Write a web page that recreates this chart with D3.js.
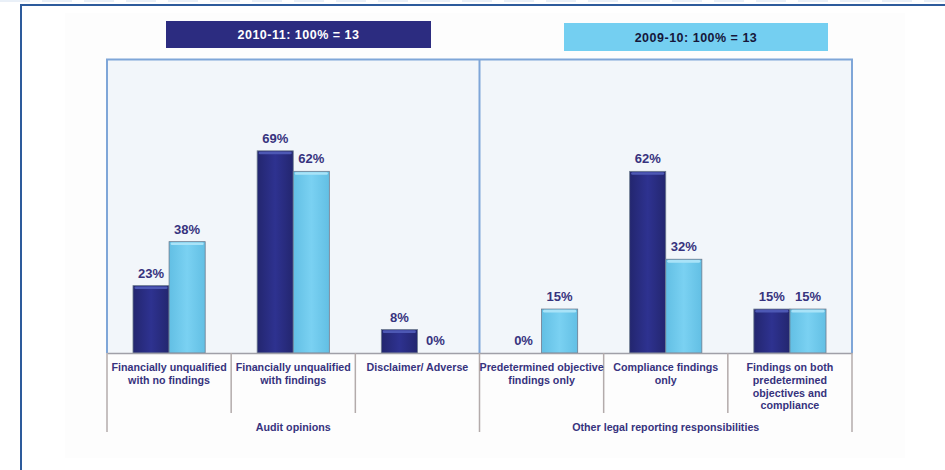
<!DOCTYPE html>
<html>
<head>
<meta charset="utf-8">
<script src="https://cdn.jsdelivr.net/npm/d3@7"></script>
<style>
  html, body { margin: 0; padding: 0; background: #ffffff; }
  svg { display: block; font-family: "Liberation Sans", Arial, sans-serif; }
</style>
</head>
<body>
<svg id="chart" width="945" height="470"></svg>
<script>
// Category labels (line breaks as drawn under the axis)
const categories = [
  ["Financially unqualified", "with no findings"],
  ["Financially unqualified", "with findings"],
  ["Disclaimer/ Adverse"],
  ["Predetermined objective", "findings only"],
  ["Compliance findings", "only"],
  ["Findings on both", "predetermined", "objectives and", "compliance"]
];
const categoryIds = ["c0", "c1", "c2", "c3", "c4", "c5"];
const groupNames = ["Audit opinions", "Other legal reporting responsibilities"];
const groupMembers = [["c0", "c1", "c2"], ["c3", "c4", "c5"]];
const seriesNames = ["2010-11: 100% = 13", "2009-10: 100% = 13"];
const values2011 = [23, 69, 8, 0, 62, 15];
const values2010 = [38, 62, 0, 15, 32, 15];

const svg = d3.select("#chart");
const defs = svg.append("defs");

const plot = { left: 107, right: 852, top: 60, bottom: 353 };
const textColor = "#37337e";

// bar shading: darker edges, lighter middle
function hGrad(id, edge, mid) {
  const g = defs.append("linearGradient").attr("id", id)
    .attr("x1", "0").attr("x2", "1").attr("y1", "0").attr("y2", "0");
  g.append("stop").attr("offset", "0").attr("stop-color", edge);
  g.append("stop").attr("offset", "0.5").attr("stop-color", mid);
  g.append("stop").attr("offset", "1").attr("stop-color", edge);
}
hGrad("gDark", "#23266f", "#2e3290");
hGrad("gLight", "#62bfe4", "#7ad1f2");

// outer frame
svg.append("line").attr("x1", 0).attr("x2", 945).attr("y1", 1).attr("y2", 1)
  .attr("stroke", "#d3e0f0").attr("stroke-width", 1).attr("stroke-dasharray", "30,12");
svg.append("rect").attr("x", 65).attr("y", 13).attr("width", 840).attr("height", 445)
  .attr("fill", "#fdfdfd");
svg.append("path").attr("d", "M21,472 V5 H948")
  .attr("fill", "none").attr("stroke", "#2d5b9c").attr("stroke-width", 2);

// legend boxes
const legendBoxes = [
  { x: 166, y: 21, w: 265, h: 27, fill: "#2c2c80", text: "#ffffff" },
  { x: 564, y: 23, w: 264, h: 28, fill: "#74cff1", text: "#16163a" }
];
legendBoxes.forEach((b, i) => {
  svg.append("rect").attr("x", b.x).attr("y", b.y).attr("width", b.w).attr("height", b.h)
    .attr("fill", b.fill);
  svg.append("text").attr("x", b.x + b.w / 2).attr("y", b.y + b.h / 2 + 4.5)
    .attr("text-anchor", "middle").attr("font-size", 12.5).attr("font-weight", "bold")
    .attr("letter-spacing", 0.5).attr("fill", b.text).text(seriesNames[i]);
});

// scales
const x = d3.scaleBand().domain(categoryIds).range([plot.left, plot.right])
  .paddingInner(0).paddingOuter(0);
const xs = d3.scaleBand().domain(["s2011", "s2010"]).range([0, x.bandwidth()])
  .paddingInner(0).paddingOuter(0.72);
const y = d3.scaleLinear().domain([0, 100]).range([plot.bottom, plot.top]);

// plot background
svg.append("rect").attr("x", plot.left).attr("y", plot.top)
  .attr("width", plot.right - plot.left).attr("height", plot.bottom - plot.top)
  .attr("fill", "#f2f6fa");

const rows = categoryIds.map((id, i) => ({
  id,
  bars: [
    { key: "s2011", v: values2011[i], fill: "url(#gDark)", cap: "#4d58b4" },
    { key: "s2010", v: values2010[i], fill: "url(#gLight)", cap: "#a9e3f8" }
  ]
}));

const gCat = svg.append("g").selectAll("g").data(rows).join("g")
  .attr("transform", d => `translate(${x(d.id)},0)`);

gCat.selectAll("g.bar").data(d => d.bars).join("g").attr("class", "bar")
  .each(function (b) {
    const g = d3.select(this);
    const h = plot.bottom - y(b.v);
    if (h > 0) {
      g.append("rect").attr("x", xs(b.key)).attr("y", y(b.v))
        .attr("width", xs.bandwidth()).attr("height", h)
        .attr("fill", b.fill).attr("stroke", "#6d7b8e").attr("stroke-width", 0.8);
      g.append("rect").attr("x", xs(b.key) + 1.5).attr("y", y(b.v) + 0.8)
        .attr("width", xs.bandwidth() - 3).attr("height", 2.6).attr("rx", 1.3)
        .attr("fill", b.cap);
    }
    g.append("text").attr("x", xs(b.key) + xs.bandwidth() / 2).attr("y", y(b.v) - 8)
      .attr("text-anchor", "middle").attr("font-size", 13).attr("font-weight", "bold")
      .attr("fill", textColor).text(b.v + "%");
  });

// plot frame and section divider
const frameColor = "#7fa6d8";
const divX = x("c3");
svg.append("path")
  .attr("d", `M${plot.left},${plot.bottom} V${plot.top - 0.5} H${plot.right} V${plot.bottom}`)
  .attr("fill", "none").attr("stroke", frameColor).attr("stroke-width", 2);
svg.append("line").attr("x1", divX).attr("x2", divX).attr("y1", plot.top).attr("y2", plot.bottom)
  .attr("stroke", frameColor).attr("stroke-width", 2);

// category axis
const axis = svg.append("g").attr("transform", `translate(0,${plot.bottom})`)
  .call(d3.axisBottom(x).tickSize(0).tickFormat(""));
axis.select(".domain").attr("stroke", "#a0a0a8").attr("stroke-width", 1.5);

// separators between categories
const bounds = categoryIds.map(id => x(id)).concat([plot.right]);
bounds.forEach((bx, i) => {
  const long = (i === 0 || i === 3 || i === 6);
  svg.append("line").attr("x1", bx).attr("x2", bx)
    .attr("y1", plot.bottom).attr("y2", long ? 432 : 413)
    .attr("stroke", "#b3abab").attr("stroke-width", 1.5);
});

// category labels
categoryIds.forEach((id, i) => {
  const t = svg.append("text").attr("x", x(id) + x.bandwidth() / 2).attr("y", 371)
    .attr("text-anchor", "middle").attr("font-size", 10.7).attr("font-weight", "bold")
    .attr("fill", textColor);
  categories[i].forEach((line, j) => {
    t.append("tspan").attr("x", x(id) + x.bandwidth() / 2).attr("dy", j === 0 ? 0 : 12.8)
      .text(line);
  });
});

// group labels
groupNames.forEach((name, i) => {
  const m = groupMembers[i];
  const cx = (x(m[0]) + x(m[m.length - 1]) + x.bandwidth()) / 2;
  svg.append("text").attr("x", cx).attr("y", 431).attr("text-anchor", "middle")
    .attr("font-size", 10.7).attr("font-weight", "bold").attr("fill", textColor).text(name);
});
</script>
</body>
</html>
